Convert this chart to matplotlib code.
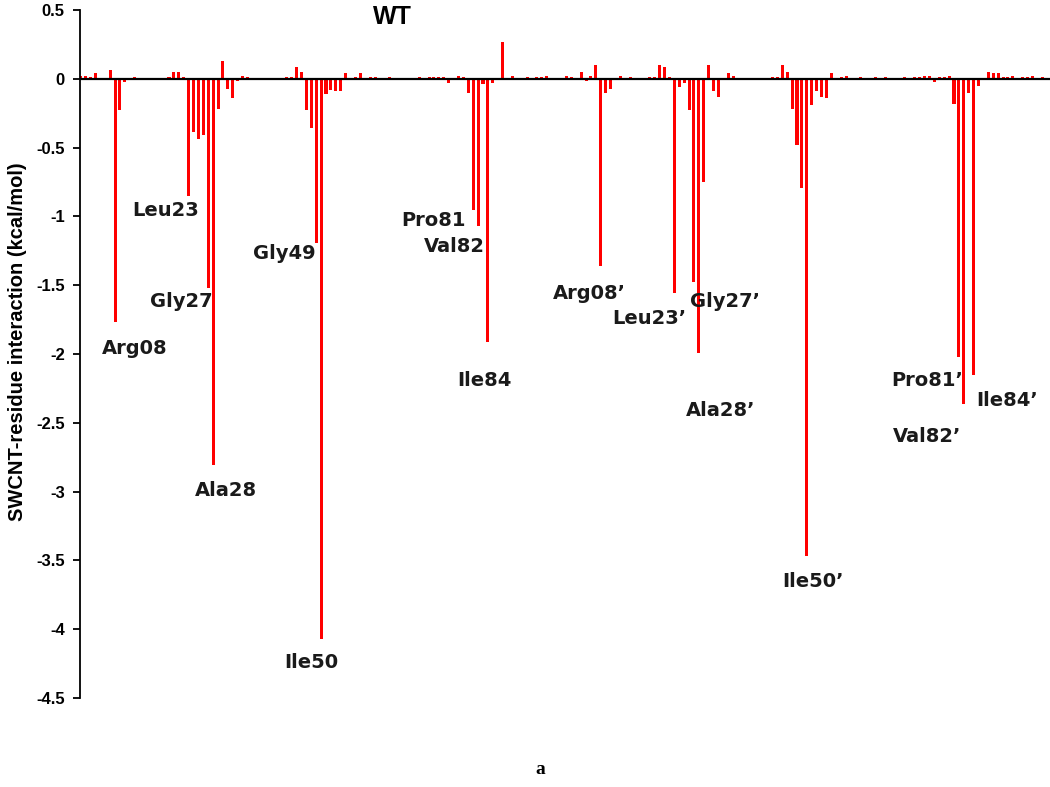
import matplotlib
matplotlib.use("Agg")
import matplotlib.pyplot as plt
import numpy as np

# per-residue SWCNT interaction energy (kcal/mol), chain A (1-99) and chain B (1'-99')
chain_a = [
    0.022, 0.02, 0.015, 0.04, 0, 0, 0.063, -1.77, -0.23, -0.02,
    0, 0.015, 0, 0, 0, 0, 0, 0, 0.01, 0.05,
    0.05, 0.015, -0.85, -0.39, -0.44, -0.41, -1.52, -2.81, -0.22, 0.128,
    -0.077, -0.14, -0.017, 0.022, 0.015, 0, 0, 0, 0, 0,
    0, 0, 0.015, 0.01, 0.087, 0.048, -0.23, -0.36, -1.19, -4.07,
    -0.11, -0.08, -0.09, -0.09, 0.04, 0, 0.015, 0.04, 0, 0.015,
    0.015, 0, 0, 0.012, 0, 0, 0, 0, 0, 0.012,
    0, 0.012, 0.012, 0.012, 0.012, -0.03, 0, 0.022, 0.015, -0.10,
    -0.95, -1.07, -0.035, -1.91, -0.03, 0, 0.27, 0, 0.02, 0,
    0, 0.012, 0, 0.015, 0.015, 0.022, 0, 0, 0,
]
chain_b = [
    0.022, 0.012, 0, 0.048, -0.017, 0.022, 0.10, -1.36, -0.10, -0.077,
    0, 0.022, 0, 0.012, 0, 0, 0, 0.015, 0.015, 0.10,
    0.087, 0.015, -1.56, -0.06, -0.03, -0.23, -1.48, -1.99, -0.75, 0.097,
    -0.087, -0.133, 0, 0.04, 0.022, 0, 0, 0, 0, 0,
    0, 0, 0.015, 0.015, 0.097, 0.048, -0.22, -0.48, -0.79, -3.47,
    -0.19, -0.09, -0.133, -0.14, 0.04, 0, 0.015, 0.022, 0, 0,
    0.012, 0, 0, 0.012, 0, 0.012, 0, 0, 0, 0.012,
    0, 0.012, 0.012, 0.02, 0.02, -0.02, 0.012, 0.015, 0.02, -0.18,
    -2.02, -2.36, -0.10, -2.15, -0.05, 0, 0.048, 0.04, 0.04, 0.015,
    0.015, 0.022, 0, 0.012, 0.015, 0.02, 0, 0.012, 0,
]
yticks = [0.5, 0, -0.5, -1, -1.5, -2, -2.5, -3, -3.5, -4, -4.5]

# residue labels: (text, x, y) in data coords
labels = [
    ("Arg08", 12.1, -1.96), ("Leu23", 18.4, -0.96), ("Gly27", 21.6, -1.62),
    ("Ala28", 30.6, -2.99), ("Gly49", 42.5, -1.27), ("Ile50", 48.0, -4.24),
    ("Pro81", 73.0, -1.03), ("Val82", 77.1, -1.22), ("Ile84", 83.2, -2.19),
    ("Arg08\u2019", 104.6, -1.56), ("Leu23\u2019", 117.0, -1.74),
    ("Gly27\u2019", 132.3, -1.62), ("Ala28\u2019", 131.5, -2.41),
    ("Ile50\u2019", 150.3, -3.65), ("Pro81\u2019", 173.6, -2.19),
    ("Val82\u2019", 173.6, -2.60), ("Ile84\u2019", 189.9, -2.34),
]

values = np.array(chain_a + chain_b)
residues = np.arange(1, len(values) + 1)

fig = plt.figure(figsize=(10.5, 7.87), dpi=100)
ax = fig.add_axes([80 / 1050, 1 - 698 / 787, 1 - 80 / 1050, 688 / 787])

ax.bar(residues, values, width=0.62, color="#ff0000", linewidth=0)
ax.axhline(0, color="black", lw=1.6, zorder=3)

ax.set_xlim(0.857, 198.57)
ax.set_ylim(-4.5, 0.5)
ax.set_yticks(yticks)
ax.set_yticklabels([f"{t:g}" for t in yticks], fontsize=12, fontweight="bold",
                   family="Liberation Sans")
ax.tick_params(axis="y", direction="out", length=5, width=1.3, pad=6)
ax.set_xticks([])
for s in ["top", "right", "bottom"]:
    ax.spines[s].set_visible(False)
ax.spines["left"].set_linewidth(1.3)

for text, x, y in labels:
    ax.text(x, y, text, ha="center", va="center", fontsize=14, fontweight="bold",
            color="#1a1a1a", family="DejaVu Sans")

fig.text(18 / 1050, 1 - 342 / 787, "SWCNT-residue interaction (kcal/mol)",
         rotation=90, ha="center", va="center", fontsize=14.5, fontweight="bold",
         family="Liberation Sans")
fig.text(392 / 1050, 1 - 17 / 787, "WT", ha="center", va="center", fontsize=18,
         fontweight="bold", family="Liberation Sans")
fig.text(540 / 1050, 1 - 770 / 787, "a", ha="center", va="center", fontsize=14,
         fontweight="bold", family="Liberation Serif")

fig.savefig("out.png", dpi=100)
